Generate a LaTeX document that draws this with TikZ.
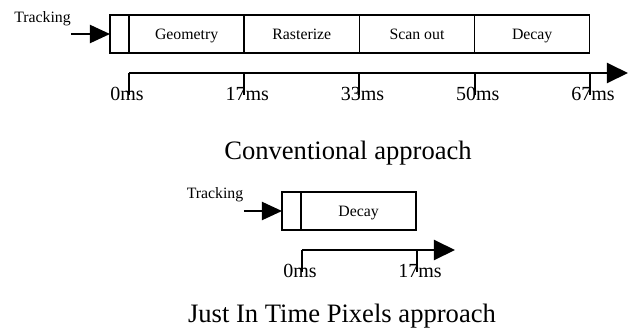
\documentclass[tikz,border=0pt]{standalone}
\usepackage{fontspec}
\setmainfont{Liberation Serif}
\usetikzlibrary{positioning}
\usetikzlibrary{arrows.meta}

\begin{document}
\begin{tikzpicture}[x=0.5pt,y=-0.5pt,
 cell/.style={draw,line width=0.7pt,minimum height=19pt,inner sep=0pt,outer sep=0pt,font=\fontsize{7.9}{9}\selectfont,text height=1.5ex,text depth=0.3ex},
 stub/.style={cell,minimum width=9.5pt},
 slot/.style={cell,minimum width=57.6pt},
 feed/.style={line width=1pt,-{Triangle[length=10pt,width=9pt]}},
 timeline/.style={line width=1pt,-{Triangle[length=10.5pt,width=10pt]}},
 tickmark/.style={line width=1pt},
 mslabel/.style={anchor=base west,inner sep=0pt,font=\fontsize{10}{12}\selectfont},
 caption/.style={anchor=base,inner sep=0pt,font=\fontsize{13.3}{16}\selectfont},
 tracklabel/.style={anchor=base,inner sep=0pt,font=\fontsize{7.9}{9}\selectfont}]
 \useasboundingbox (0,0) rectangle (629,328);

 % conventional pipeline
 \node[stub,anchor=north west] (c0) at (110,15) {};
 \node[slot,right=0pt of c0] (geom) {Geometry};
 \node[slot,right=0pt of geom] (rast) {Rasterize};
 \node[slot,right=0pt of rast] (scan) {Scan out};
 \node[slot,right=0pt of scan] (decay) {Decay};
 \coordinate[left=19.5pt of c0.west] (ctrk);
 \draw[feed] (ctrk) -- (c0.west);
 \node[tracklabel] (ctxt) at (42.5,22) {Tracking};
 \coordinate (cax) at (129,73);
 \coordinate (caxe) at (628,73);
 \draw[timeline] (cax) -- (caxe);
 \foreach \n/\x/\v in {0/129/0,1/244.25/17,2/359.5/33,3/474.75/50,4/590/67}{
  \draw[tickmark] (\x,73) -- (\x,95);
  \node[mslabel] (cms\n) at (\x-19,100) {\v ms};
 }
 \node[caption] (conv) at (348,159) {Conventional approach};

 % just in time pixels
 \node[stub,anchor=north west] (j0) at (282,192) {};
 \node[slot,right=0pt of j0] (jdecay) {Decay};
 \coordinate[left=19pt of j0.west] (jtrk);
 \draw[feed] (jtrk) -- (j0.west);
 \node[tracklabel] (jtxt) at (215,198) {Tracking};
 \coordinate (jax) at (302,250);
 \coordinate (jaxe) at (455,250);
 \draw[timeline] (jax) -- (jaxe);
 \foreach \n/\x/\v in {0/302/0,1/417/17}{
  \draw[tickmark] (\x,250) -- (\x,272);
  \node[mslabel] (jms\n) at (\x-19,277) {\v ms};
 }
 \node[caption] (jit) at (342,322) {Just In Time Pixels approach};
\end{tikzpicture}
\end{document}
